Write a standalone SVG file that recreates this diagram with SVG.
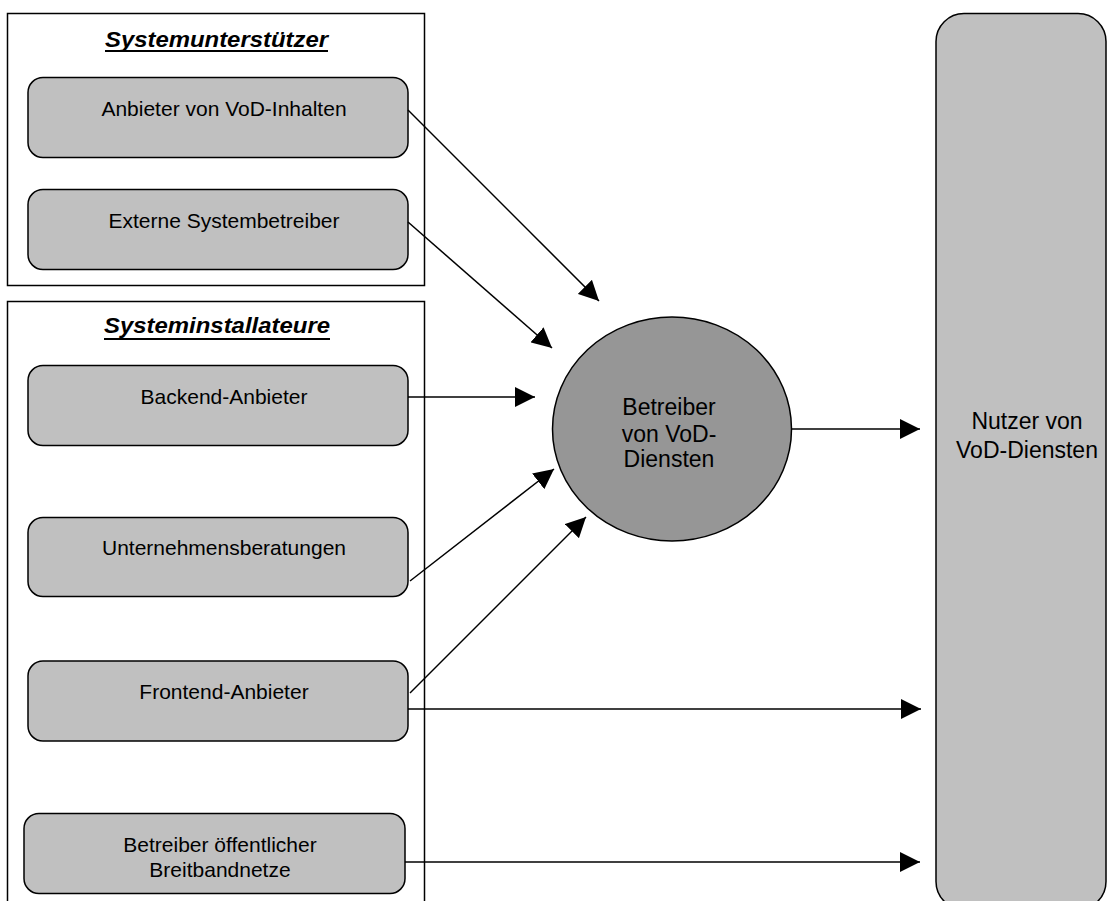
<svg xmlns="http://www.w3.org/2000/svg" width="1107" height="901" viewBox="0 0 1107 901">
<style>
.grp{fill:#FFFFFF;stroke:#000;stroke-width:1.5}
.node{fill:#C0C0C0;stroke:#000;stroke-width:1.5}
.ell{fill:#969696;stroke:#000;stroke-width:1.5}
.t{font-family:"Liberation Sans",Arial,sans-serif;font-size:21px;fill:#000;text-anchor:middle}
.tb{font-size:23px}
.title{font-family:"Liberation Sans",Arial,sans-serif;font-size:22px;font-weight:bold;font-style:italic;fill:#000;text-anchor:middle}
.ul{stroke:#000;stroke-width:2}
.con line{stroke:#000;stroke-width:1.5;marker-end:url(#ah)}
</style>
<defs>
<marker id="ah" markerUnits="userSpaceOnUse" markerWidth="20" markerHeight="20" refX="20" refY="10" orient="auto" viewBox="0 0 20 20">
<path d="M0,0 L20,10 L0,20 z" fill="#000"/>
</marker>
</defs>
<rect width="1107" height="901" fill="#FFFFFF"/>
<g id="systemunterstuetzer">
<rect class="grp" x="7.5" y="13.5" width="417" height="272"/>
<text class="title" x="216.5" y="46.5" textLength="223" lengthAdjust="spacingAndGlyphs">Systemunterstützer</text>
<line class="ul" x1="105" y1="51" x2="328" y2="51"/>
</g>
<g id="systeminstallateure">
<rect class="grp" x="7.5" y="301.5" width="417" height="610"/>
<text class="title" x="217" y="333" textLength="226" lengthAdjust="spacingAndGlyphs">Systeminstallateure</text>
<line class="ul" x1="104" y1="339" x2="330" y2="339"/>
</g>
<g id="anbieter-vod-inhalten">
<rect class="node" x="28" y="77.5" width="380" height="80" rx="15"/>
<text class="t" x="224" y="116">Anbieter von VoD-Inhalten</text>
</g>
<g id="externe-systembetreiber">
<rect class="node" x="28" y="189.5" width="380" height="80" rx="15"/>
<text class="t" x="224" y="228">Externe Systembetreiber</text>
</g>
<g id="backend-anbieter">
<rect class="node" x="28" y="365.5" width="380" height="80" rx="15"/>
<text class="t" x="224" y="404">Backend-Anbieter</text>
</g>
<g id="unternehmensberatungen">
<rect class="node" x="28" y="517.5" width="380" height="79" rx="15"/>
<text class="t" x="224" y="555">Unternehmensberatungen</text>
</g>
<g id="frontend-anbieter">
<rect class="node" x="28" y="661" width="380" height="80" rx="15"/>
<text class="t" x="224" y="699">Frontend-Anbieter</text>
</g>
<g id="betreiber-breitbandnetze">
<rect class="node" x="24" y="813.5" width="381" height="80" rx="15"/>
<text class="t" x="220" y="852">Betreiber öffentlicher</text>
<text class="t" x="220" y="876.5">Breitbandnetze</text>
</g>
<g id="betreiber-vod-diensten">
<ellipse class="ell" cx="672" cy="429" rx="119.5" ry="112"/>
<text class="t tb" x="669" y="415">Betreiber</text>
<text class="t tb" x="669" y="441.5">von VoD-</text>
<text class="t tb" x="669" y="467">Diensten</text>
</g>
<g id="nutzer-vod-diensten">
<rect class="node" x="936" y="13.5" width="170" height="896" rx="28"/>
<text class="t tb" x="1027" y="429">Nutzer von</text>
<text class="t tb" x="1027" y="458">VoD-Diensten</text>
</g>
<g id="connectors" class="con">
<line x1="408" y1="110" x2="599" y2="301"/>
<line x1="408" y1="222" x2="552" y2="348"/>
<line x1="408" y1="397" x2="535" y2="397"/>
<line x1="410" y1="581" x2="554" y2="469"/>
<line x1="410" y1="693" x2="586" y2="517"/>
<line x1="408" y1="709" x2="921" y2="709"/>
<line x1="405" y1="862" x2="920" y2="862"/>
<line x1="792" y1="429" x2="920" y2="429"/>
</g>
</svg>
